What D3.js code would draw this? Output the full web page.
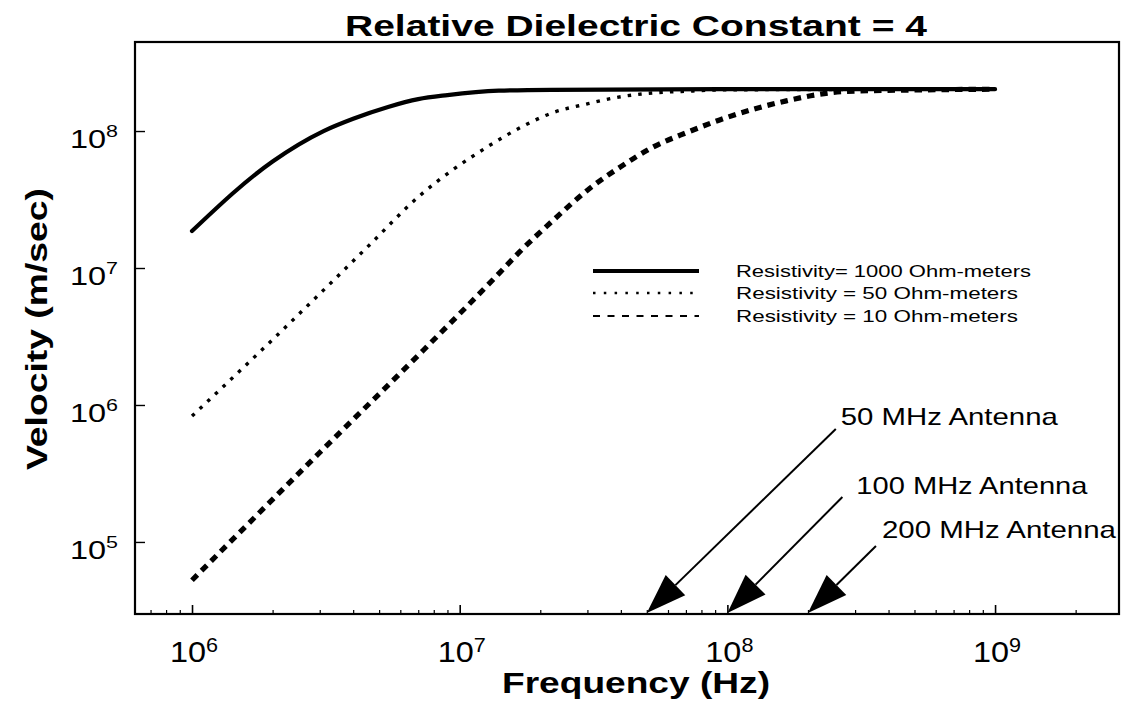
<!DOCTYPE html>
<html>
<head>
<meta charset="utf-8">
<script src="https://cdn.jsdelivr.net/npm/d3@7"></script>
<style>
  html, body { margin: 0; padding: 0; background: #fff; }
  svg { display: block; }
  text { font-family: "Liberation Sans", Arial, sans-serif; fill: #000; }
</style>
</head>
<body>
<svg id="chart" width="1122" height="702"></svg>
<script>
// ---------------- data ----------------
const titleText = "Relative Dielectric Constant = 4";
const xLabelText = "Frequency (Hz)";
const yLabelText = "Velocity (m/sec)";

const xTickExps = [6, 7, 8, 9];
const yTickExps = [5, 6, 7, 8];

// Resistivity = 1000 Ohm-meters (solid)
const freqSolid = [1e6, 2e6, 3.1e6, 4e6, 5.4e6, 7e6, 9e6, 1.4e7, 2.2e7, 1e8, 1e9];
const velSolid  = [1.86e7, 6.0e7, 1.0e8, 1.23e8, 1.5e8, 1.71e8, 1.83e8, 1.97e8, 2.0e8, 2.02e8, 2.02e8];

// Resistivity = 50 Ohm-meters (dotted)
const freqDot = [1e6, 2e6, 4.5e6, 7e6, 1.3e7, 1.7e7, 2.2e7, 3e7, 4e7, 5.3e7, 7e7, 1e8, 1e9];
const velDot  = [8.3e5, 3.0e6, 1.41e7, 3.3e7, 7.9e7, 1.07e8, 1.35e8, 1.58e8, 1.78e8, 1.9e8, 1.95e8, 2.0e8, 2.02e8];

// Resistivity = 10 Ohm-meters (dashed)
const freqDash = [1e6, 3e6, 7.3e6, 1.4e7, 1.66e7, 2.24e7, 3e7, 4e7, 5.25e7, 7.1e7, 9.3e7, 1.26e8, 1.66e8, 2.15e8, 2.8e8, 1e9];
const velDash  = [5.25e4, 4.5e5, 2.5e6, 9.1e6, 1.29e7, 2.24e7, 3.7e7, 5.5e7, 7.6e7, 9.8e7, 1.2e8, 1.45e8, 1.66e8, 1.84e8, 1.95e8, 2.02e8];

const seriesNames = ["Resistivity= 1000 Ohm-meters", "Resistivity = 50 Ohm-meters", "Resistivity = 10 Ohm-meters"];

const antennaFreqs  = [5e7, 1e8, 2e8];
const antennaLabels = ["50 MHz Antenna", "100 MHz Antenna", "200 MHz Antenna"];

// ---------------- layout ----------------
const svg = d3.select("#chart");
const plot = { left: 135, right: 1119, top: 42, bottom: 614 };

const x = d3.scaleLog().domain([Math.pow(10, 5.787), Math.pow(10, 9.463)]).range([plot.left, plot.right]);
const y = d3.scaleLog().domain([Math.pow(10, 4.474), Math.pow(10, 8.650)]).range([plot.bottom, plot.top]);

// styles
const styles = [
  { width: 4.2, dash: null,     cap: "round" },
  { width: 3.4, dash: "3.5,7.1", cap: "butt" },
  { width: 5.2, dash: "7.5,6",  cap: "butt" }
];
const legendStyles = [
  { width: 4,   dash: null },
  { width: 2.6, dash: "2.5,8.3" },
  { width: 2,   dash: "7,7.5" }
];

// ---------------- frame ----------------
svg.append("rect")
  .attr("x", plot.left).attr("y", plot.top)
  .attr("width", plot.right - plot.left).attr("height", plot.bottom - plot.top)
  .attr("fill", "none").attr("stroke", "#000").attr("stroke-width", 2.2);

// axes (inward ticks)
const xAxis = d3.axisBottom(x).tickValues(xTickExps.map(e => Math.pow(10, e)))
  .tickFormat("").tickSizeInner(-9).tickSizeOuter(0);
const gx = svg.append("g").attr("transform", `translate(0,${plot.bottom})`).call(xAxis);
gx.select(".domain").remove();
gx.selectAll("line").attr("stroke-width", 1.6);

const minorX = [];
for (let e = 5; e <= 9; e++) for (let m = 2; m <= 9; m++) {
  const v = m * Math.pow(10, e);
  if (v > x.domain()[0] && v < x.domain()[1]) minorX.push(v);
}
const xMinor = d3.axisBottom(x).tickValues(minorX).tickFormat("").tickSizeInner(-4).tickSizeOuter(0);
const gxm = svg.append("g").attr("transform", `translate(0,${plot.bottom})`).call(xMinor);
gxm.select(".domain").remove();
gxm.selectAll("line").attr("stroke-width", 1.2);

const yAxis = d3.axisLeft(y).tickValues(yTickExps.map(e => Math.pow(10, e)))
  .tickFormat("").tickSizeInner(-10).tickSizeOuter(0);
const gy = svg.append("g").attr("transform", `translate(${plot.left},0)`).call(yAxis);
gy.select(".domain").remove();
gy.selectAll("line").attr("stroke-width", 1.4);

// tick labels with superscripts
xTickExps.forEach(e => {
  const t = svg.append("text")
    .attr("text-anchor", "middle")
    .attr("transform", `translate(${x(Math.pow(10, e)) + 2},662) scale(1.08,1)`);
  t.append("tspan").attr("font-size", 30).text("10");
  t.append("tspan").attr("font-size", 20).attr("dy", -10).text(String(e));
});
yTickExps.forEach(e => {
  const t = svg.append("text")
    .attr("text-anchor", "end")
    .attr("transform", `translate(118,${y(Math.pow(10, e)) + 17}) scale(1.3,1)`);
  t.append("tspan").attr("font-size", 25).text("10");
  t.append("tspan").attr("font-size", 16.5).attr("dy", -11).text(String(e));
});

// ---------------- series ----------------
const line = d3.line().x(d => x(d[0])).y(d => y(d[1])).curve(d3.curveMonotoneX);
const series = [
  d3.zip(freqSolid, velSolid),
  d3.zip(freqDot, velDot),
  d3.zip(freqDash, velDash)
];
series.forEach((pts, i) => {
  const s = styles[i];
  svg.append("path")
    .attr("d", line(pts))
    .attr("fill", "none")
    .attr("stroke", "#000")
    .attr("stroke-width", s.width)
    .attr("stroke-linecap", s.cap)
    .attr("stroke-linejoin", "round")
    .attr("stroke-dasharray", s.dash);
});

// ---------------- legend ----------------
const legend = { x1: 593, x2: 699, textX: 736, rows: [271, 293, 316], textW: [295, 282, 282] };
seriesNames.forEach((name, i) => {
  const ly = legend.rows[i];
  svg.append("line")
    .attr("x1", legend.x1).attr("x2", legend.x2)
    .attr("y1", ly).attr("y2", ly)
    .attr("stroke", "#000")
    .attr("stroke-width", legendStyles[i].width)
    .attr("stroke-dasharray", legendStyles[i].dash);
  svg.append("text")
    .attr("x", legend.textX).attr("y", ly + 6)
    .attr("font-size", 16.5)
    .attr("textLength", legend.textW[i]).attr("lengthAdjust", "spacingAndGlyphs")
    .text(name);
});

// ---------------- antenna annotations ----------------
const antennaArrow = [
  { dx: 189, dy: 184, labelDx: 194, labelY: 425, labelW: 217 },
  { dx: 115, dy: 116, labelDx: 129, labelY: 494, labelW: 231 },
  { dx: 68,  dy: 67,  labelDx: 74,  labelY: 538, labelW: 234 }
];
const headLen = 40, headHalf = 14;
antennaFreqs.forEach((f, i) => {
  const a = antennaArrow[i];
  const tipX = x(f), tipY = plot.bottom - 1;
  const tailX = tipX + a.dx, tailY = tipY - a.dy;
  const len = Math.hypot(a.dx, a.dy);
  const ux = a.dx / len, uy = -a.dy / len; // unit vector tip->tail
  const bx = tipX + ux * headLen, by = tipY + uy * headLen;
  svg.append("line")
    .attr("x1", tailX).attr("y1", tailY).attr("x2", bx).attr("y2", by)
    .attr("stroke", "#000").attr("stroke-width", 2);
  const px = -uy, py = ux;
  svg.append("path")
    .attr("d", `M${tipX},${tipY} L${bx + px * headHalf},${by + py * headHalf} L${bx - px * headHalf},${by - py * headHalf} Z`)
    .attr("fill", "#000");
  svg.append("text")
    .attr("x", tipX + a.labelDx).attr("y", a.labelY)
    .attr("font-size", 24)
    .attr("textLength", a.labelW).attr("lengthAdjust", "spacingAndGlyphs")
    .text(antennaLabels[i]);
});

// ---------------- titles ----------------
svg.append("text")
  .attr("x", 345).attr("y", 36)
  .attr("font-size", 29).attr("font-weight", "bold")
  .attr("textLength", 582).attr("lengthAdjust", "spacingAndGlyphs")
  .text(titleText);

svg.append("text")
  .attr("x", 502).attr("y", 693)
  .attr("font-size", 29).attr("font-weight", "bold")
  .attr("textLength", 268).attr("lengthAdjust", "spacingAndGlyphs")
  .text(xLabelText);

svg.append("text")
  .attr("transform", "translate(47,470) rotate(-90)")
  .attr("font-size", 30).attr("font-weight", "bold")
  .attr("textLength", 282).attr("lengthAdjust", "spacingAndGlyphs")
  .text(yLabelText);
</script>
</body>
</html>
